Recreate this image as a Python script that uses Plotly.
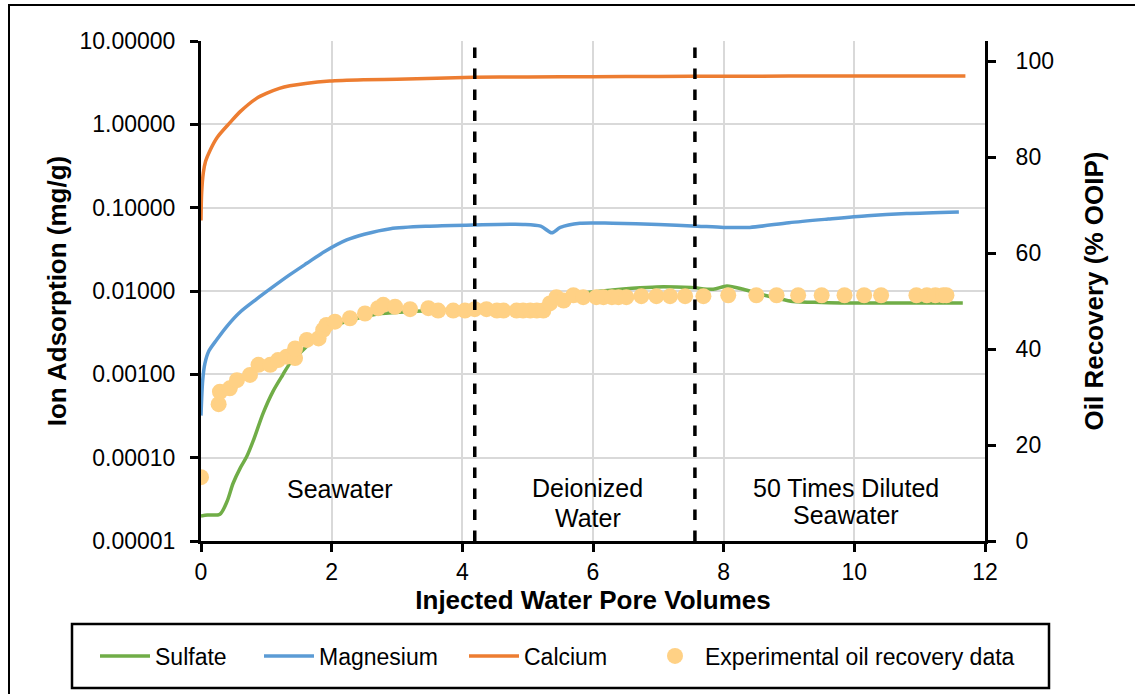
import plotly.graph_objects as go

# ---------------- data ----------------
ca_x = [0, 0.01, 0.035, 0.07, 0.14, 0.25, 0.44, 0.6, 0.85, 1.0, 1.2, 1.36, 1.6, 1.97, 2.5, 3.0, 4.17, 5.0, 6.0, 7.0, 8.0, 9.0, 10.0, 11.0, 11.7]
ca_y = [0.07, 0.15, 0.26, 0.36, 0.49, 0.70, 1.04, 1.42, 2.05, 2.35, 2.7, 2.9, 3.1, 3.3, 3.42, 3.48, 3.67, 3.70, 3.73, 3.76, 3.78, 3.79, 3.80, 3.80, 3.80]

mg_x = [0, 0.026, 0.06, 0.12, 0.24, 0.4, 0.6, 0.85, 1.1, 1.35, 1.62, 1.9, 2.23, 2.5, 2.9, 3.5, 4.17, 4.93, 5.2, 5.37, 5.5, 5.8, 6.3, 7.0, 7.6, 8.0, 8.4, 9.0, 9.6, 10.2, 10.8, 11.6]
mg_y = [0.00032, 0.00085, 0.00135, 0.0019, 0.0026, 0.0038, 0.0056, 0.0080, 0.0112, 0.0155, 0.0215, 0.030, 0.041, 0.048, 0.056, 0.060, 0.062, 0.063, 0.060, 0.050, 0.058, 0.065, 0.065, 0.063, 0.060, 0.058, 0.058, 0.066, 0.073, 0.080, 0.085, 0.089]

so4_x = [0, 0.1, 0.29, 0.4, 0.49, 0.6, 0.7, 0.8, 0.95, 1.1, 1.25, 1.36, 1.6, 1.8, 2.0, 2.3, 2.7, 3.1, 3.8, 4.3, 4.8, 5.2, 5.5, 5.8, 6.3, 6.6, 6.97, 7.5, 7.84, 8.05, 8.3, 8.6, 9.06, 9.5, 9.88, 11.0, 11.66]
so4_y = [2.0e-5, 2.05e-5, 2.1e-5, 3.0e-5, 4.9e-5, 7.5e-5, 1.03e-4, 1.6e-4, 3.4e-4, 6.2e-4, 9.8e-4, 1.35e-3, 2.1e-3, 2.9e-3, 3.7e-3, 4.5e-3, 5.3e-3, 5.6e-3, 5.9e-3, 6.0e-3, 6.1e-3, 6.6e-3, 8.0e-3, 9.3e-3, 1.03e-2, 1.08e-2, 1.12e-2, 1.1e-2, 1.05e-2, 1.15e-2, 1.05e-2, 9.0e-3, 7.5e-3, 7.3e-3, 7.2e-3, 7.2e-3, 7.2e-3]

oil_x = [0, 0.27, 0.29, 0.44, 0.55, 0.75, 0.88, 1.06, 1.18, 1.31, 1.44, 1.44, 1.62, 1.80, 1.87, 1.92, 2.05, 2.28, 2.51, 2.71, 2.79, 2.97, 3.2, 3.48, 3.63, 3.86, 4.04, 4.19, 4.37, 4.53, 4.63, 4.83, 4.93, 5.04, 5.14, 5.24, 5.34, 5.44, 5.55, 5.70, 5.85, 6.05, 6.16, 6.29, 6.39, 6.51, 6.74, 6.97, 7.18, 7.41, 7.69, 8.07, 8.5, 8.81, 9.14, 9.5, 9.85, 10.15, 10.41, 10.95, 11.11, 11.24, 11.36, 11.41]
oil_y = [13.3, 28.5, 31.1, 31.8, 33.5, 34.6, 36.7, 36.7, 37.7, 38.4, 38.1, 40.1, 41.9, 42.2, 44.0, 45.0, 45.7, 46.4, 47.4, 48.5, 49.2, 48.8, 48.3, 48.5, 48.0, 48.0, 48.0, 48.3, 48.3, 48.0, 48.0, 48.0, 48.0, 48.0, 48.0, 48.0, 49.5, 50.8, 50.1, 51.2, 50.8, 50.8, 50.8, 50.8, 50.8, 50.8, 51.0, 51.0, 51.0, 51.0, 51.0, 51.2, 51.2, 51.2, 51.2, 51.2, 51.2, 51.2, 51.2, 51.2, 51.2, 51.2, 51.2, 51.2]

boundaries = [4.19, 7.56]
phase_labels = [("Seawater", 2.13, 0.104), ("Deionized", 5.92, 0.106), ("Water", 5.92, 0.046),
                ("50 Times Diluted", 9.87, 0.106), ("Seawater", 9.87, 0.052)]

y_ticks = [1e-5, 1e-4, 1e-3, 1e-2, 1e-1, 1, 10]
y_ticktext = ["0.00001", "0.00010", "0.00100", "0.01000", "0.10000", "1.00000", "10.00000"]

FONT = "Liberation Sans, Arial, sans-serif"
GREEN, BLUE, ORANGE, DOT = "#70AD47", "#5B9BD5", "#ED7D31", "#FFD185"

fig = go.Figure()
fig.add_trace(go.Scatter(x=so4_x, y=so4_y, mode="lines", name="Sulfate",
                         line=dict(color=GREEN, width=3.5, shape="spline", smoothing=0.8), legend="legend2"))
fig.add_trace(go.Scatter(x=mg_x, y=mg_y, mode="lines", name="Magnesium",
                         line=dict(color=BLUE, width=3.5, shape="spline", smoothing=0.8), legend="legend3"))
fig.add_trace(go.Scatter(x=ca_x, y=ca_y, mode="lines", name="Calcium",
                         line=dict(color=ORANGE, width=3.5, shape="spline", smoothing=0.8), legend="legend4"))
fig.add_trace(go.Scatter(x=oil_x, y=oil_y, mode="markers", name="Experimental oil recovery data",
                         marker=dict(color=DOT, size=16), yaxis="y2", legend="legend5"))

W, H = 1135, 694
L, R, T, B = 201, 150, 41, 153
pw, ph = W - L - R, H - T - B


def px(xp):
    return (xp - L) / pw


def py(yp):
    return (H - B - yp) / ph


shapes = []
for bx in boundaries:
    shapes.append(dict(type="line", xref="x", yref="paper", x0=bx, x1=bx, y0=0, y1=py(47),
                       line=dict(color="black", width=3.5, dash="dash")))
# outer chart border
shapes.append(dict(type="rect", xref="paper", yref="paper", x0=px(9), x1=px(1145), y0=py(705), y1=py(5),
                   line=dict(color="black", width=2), layer="below"))
# legend box
shapes.append(dict(type="rect", xref="paper", yref="paper", x0=px(72), x1=px(1049), y0=py(688), y1=py(624),
                   line=dict(color="black", width=2.5)))

annotations = [dict(text=t, x=xv, y=yv, xref="x", yref="paper", showarrow=False,
                    font=dict(size=25, color="black", family=FONT), xanchor="center", yanchor="middle")
               for t, xv, yv in phase_labels]

leg_common = dict(orientation="h", yanchor="middle", y=py(656), xanchor="left",
                  font=dict(size=23, color="black", family=FONT), bgcolor="rgba(0,0,0,0)",
                  itemwidth=50, borderwidth=0)
legends = {}
for key, xpos in [("legend2", 95), ("legend3", 259), ("legend4", 464), ("legend5", 645)]:
    legends[key] = dict(leg_common, x=px(xpos))

fig.update_layout(
    width=W, height=H,
    margin=dict(l=L, r=R, t=T, b=B),
    paper_bgcolor="white", plot_bgcolor="white",
    font=dict(family=FONT, color="black"),
    shapes=shapes, annotations=annotations,
    xaxis=dict(range=[0, 12], tickvals=[0, 2, 4, 6, 8, 10, 12], showgrid=True, gridcolor="#D9D9D9", gridwidth=1.5,
               showline=True, linecolor="black", linewidth=3, ticks="outside", ticklen=8, tickwidth=3,
               tickcolor="black", tickfont=dict(size=23), ticklabelstandoff=0, zeroline=False,
               title=dict(text="<b>Injected Water Pore Volumes</b>", font=dict(size=26), standoff=8)),
    yaxis=dict(type="log", range=[-5, 1], tickvals=y_ticks, ticktext=y_ticktext, showgrid=True,
               gridcolor="#D9D9D9", gridwidth=1.5, showline=True, linecolor="black", linewidth=3,
               ticks="outside", ticklen=8, tickwidth=3, tickcolor="black", tickfont=dict(size=23),
               ticklabelstandoff=10, zeroline=False,
               title=dict(text="<b>Ion Adsorption (mg/g)</b>", font=dict(size=26), standoff=6)),
    yaxis2=dict(overlaying="y", side="right", range=[0, 500 / 4.8], tickvals=[0, 20, 40, 60, 80, 100],
                showgrid=False, showline=True, linecolor="black", linewidth=3, ticks="outside", ticklen=8,
                tickwidth=3, tickcolor="black", tickfont=dict(size=23), ticklabelstandoff=15, zeroline=False,
                title=dict(text="<b>Oil Recovery (% OOIP)</b>", font=dict(size=26), standoff=32)),
    showlegend=True,
    **legends,
)

fig.write_html("out.html")
